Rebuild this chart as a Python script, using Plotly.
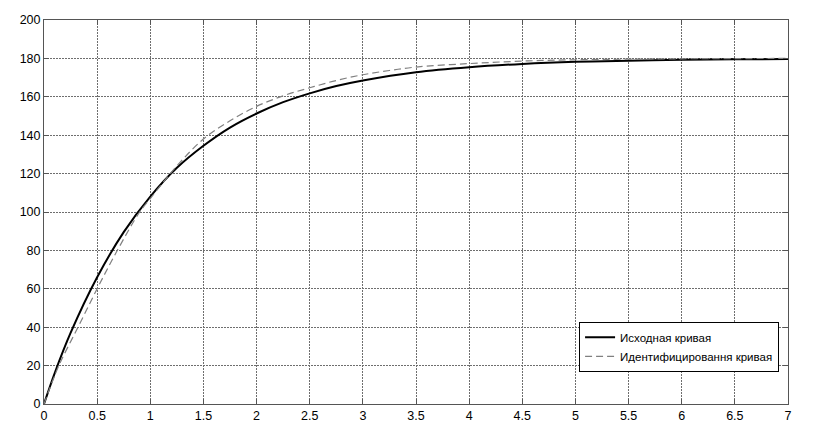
import plotly.graph_objects as go

# Source curve (solid, black)
t_src = [0, 0.1, 0.25, 0.5, 0.75, 1.0, 1.25, 1.5, 1.75, 2.0, 2.25, 2.5, 2.75, 3.0,
         3.5, 4.0, 4.5, 5.0, 5.5, 6.0, 6.5, 7.0]
y_src = [0, 16, 37, 66, 89.5, 108, 123, 134.5, 144, 151.3, 157.2, 161.8, 165.6, 168.5,
         172.8, 175.4, 177.1, 178.2, 178.8, 179.3, 179.5, 179.7]

# Identified curve (dashed, gray)
t_id = [0, 0.14, 0.32, 0.5, 0.68, 0.9, 1.0, 1.25, 1.5, 1.75, 2.0, 2.25, 2.5, 2.75,
        3.0, 3.25, 3.5, 4.0, 4.5, 5.0, 5.5, 6.0, 6.5, 7.0]
y_id = [0, 20, 40, 60, 79, 100, 107, 124, 138, 147.5, 155, 160.5, 164.7, 168.5,
        171.5, 173.7, 175.5, 177.3, 178.6, 179.3, 179.6, 179.8, 179.9, 180]

x_ticks = [0, 0.5, 1, 1.5, 2, 2.5, 3, 3.5, 4, 4.5, 5, 5.5, 6, 6.5, 7]
y_ticks = [0, 20, 40, 60, 80, 100, 120, 140, 160, 180, 200]

fig = go.Figure()
fig.add_trace(go.Scatter(x=t_src, y=y_src, mode="lines", name="Исходная кривая",
                         line=dict(color="black", width=2, shape="spline")))
fig.add_trace(go.Scatter(x=t_id, y=y_id, mode="lines", name="Идентифицировання кривая",
                         line=dict(color="#808080", width=1.2, dash="7px,4px", shape="spline")))

axis_common = dict(
    showline=True, linecolor="#555555", linewidth=1, mirror="ticks",
    ticks="inside", ticklen=5, tickcolor="#555555",
    showgrid=True, gridcolor="#6e6e6e", griddash="1.5px,1.5px", gridwidth=1,
    zeroline=False, tickfont=dict(family="Liberation Sans, Arial", size=12.5, color="black"),
)

fig.update_xaxes(range=[0, 7], tickvals=x_ticks, ticktext=[f"{v:g}" for v in x_ticks], **axis_common)
fig.update_yaxes(range=[0, 200], tickvals=y_ticks, ticktext=[str(v) for v in y_ticks], **axis_common)

fig.update_layout(
    width=809, height=427,
    margin=dict(l=36, r=29, t=12, b=31, autoexpand=False),
    paper_bgcolor="white", plot_bgcolor="white",
    showlegend=True,
    legend=dict(x=0.988, y=0.214, xanchor="right", yanchor="top",
                bgcolor="white", bordercolor="black", borderwidth=1,
                font=dict(family="Liberation Sans, Arial", size=11.5, color="black"),
                tracegroupgap=0, itemwidth=30),
)

fig.write_html("out.html")
